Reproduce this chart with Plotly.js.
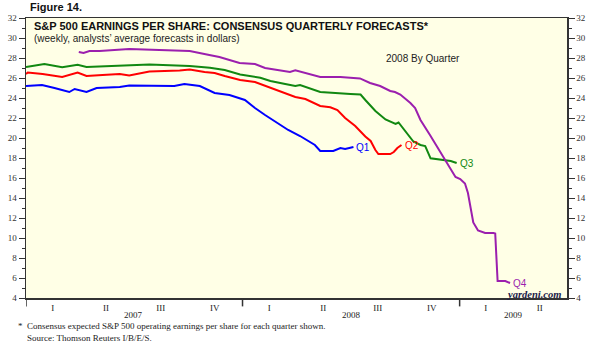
<!DOCTYPE html>
<html>
<head>
<meta charset="utf-8">
<script src="https://cdn.plot.ly/plotly-3.0.1.min.js"></script>
<style>html,body{margin:0;padding:0;background:#fff;}#chart{width:593px;height:344px;}</style>
</head>
<body>
<div id="chart"></div>
<script>
// ---- Data ----
const q1Dates = ['2007-01-01','2007-01-28','2007-02-18','2007-03-15','2007-03-24','2007-04-01','2007-04-13','2007-04-30','2007-06-08','2007-06-24','2007-08-14','2007-09-08','2007-09-25','2007-10-21','2007-11-15','2007-12-10','2008-01-05','2008-01-22','2008-02-08','2008-03-04','2008-03-18','2008-04-07','2008-04-24','2008-05-02','2008-05-11','2008-06-02','2008-06-14','2008-06-22','2008-07-06'];
const q1Vals = [25.2,25.3,25.0,24.6,24.9,24.75,24.6,25.0,25.1,25.25,25.25,25.2,25.4,25.2,24.5,24.3,23.8,23.0,22.3,21.3,20.8,20.2,19.6,19.3,18.7,18.7,19.0,18.9,19.1];

const q2Dates = ['2007-01-01','2007-01-04','2007-01-29','2007-03-03','2007-03-29','2007-04-13','2007-05-10','2007-06-08','2007-06-24','2007-07-28','2007-09-17','2007-10-04','2007-10-29','2007-11-15','2007-12-02','2007-12-28','2008-01-22','2008-02-17','2008-03-13','2008-03-30','2008-04-16','2008-05-03','2008-05-11','2008-05-28','2008-06-09','2008-06-22','2008-07-09','2008-07-26','2008-08-04','2008-08-12','2008-08-17','2008-09-06','2008-09-12','2008-09-18','2008-09-25'];
const q2Vals = [26.4,26.55,26.4,26.1,26.55,26.2,26.3,26.4,26.25,26.65,26.75,26.85,26.6,26.5,26.2,25.8,25.6,25.0,24.5,24.1,23.9,23.4,23.2,23.07,22.8,22.0,21.2,20.15,19.7,18.8,18.4,18.4,18.6,19.0,19.3];

const q3Dates = ['2007-01-01','2007-02-01','2007-03-03','2007-03-29','2007-04-13','2007-06-08','2007-07-12','2007-07-28','2007-10-04','2007-11-07','2007-12-02','2007-12-28','2008-01-31','2008-02-17','2008-03-13','2008-03-30','2008-04-07','2008-04-16','2008-05-03','2008-05-11','2008-07-01','2008-07-18','2008-07-26','2008-08-12','2008-08-29','2008-09-15','2008-09-20','2008-10-02','2008-10-15','2008-10-27','2008-11-04','2008-11-13','2008-11-30','2008-12-17','2008-12-27'];
const q3Vals = [27.1,27.4,27.07,27.33,27.1,27.2,27.3,27.35,27.2,27.03,26.8,26.36,26.03,25.7,25.4,25.2,25.3,25.1,24.7,24.6,24.4,24.35,23.8,22.7,21.85,21.4,21.55,20.65,19.65,19.3,19.2,17.97,17.8,17.7,17.5];

const q4Dates = ['2007-03-31','2007-04-08','2007-04-18','2007-05-05','2007-06-24','2007-07-28','2007-08-31','2007-10-04','2007-11-06','2007-11-23','2007-12-27','2008-01-22','2008-02-08','2008-03-21','2008-03-30','2008-04-16','2008-05-02','2008-05-11','2008-06-14','2008-07-17','2008-08-03','2008-08-20','2008-09-06','2008-09-14','2008-09-23','2008-10-10','2008-10-18','2008-10-27','2008-11-12','2008-11-29','2008-12-08','2008-12-16','2008-12-25','2009-01-02','2009-01-10','2009-01-15','2009-01-19','2009-01-24','2009-02-01','2009-02-13','2009-02-27','2009-03-02','2009-03-06','2009-03-19','2009-03-27'];
const q4Vals = [28.6,28.5,28.7,28.7,28.9,28.85,28.8,28.7,28.3,28.1,27.5,27.4,27.0,26.6,26.76,26.5,26.2,26.1,26.1,25.96,25.5,25.2,24.7,24.6,24.35,23.5,23.0,21.8,20.3,18.6,17.8,16.96,16.1,15.9,15.45,14.5,13.1,11.55,10.75,10.5,10.5,10.45,5.7,5.7,5.5];

const seriesNames = ['Q1','Q2','Q3','Q4'];
const seriesColors = ['#0000ff','#ff0000','#118811','#9b1fae'];

const quarterTickDates = ['2007-02-15','2007-05-16','2007-08-16','2007-11-15','2008-02-15','2008-05-16','2008-08-16','2008-11-15','2009-02-14','2009-05-16'];
const quarterTickText = ['I','II','III','IV','I','II','III','IV','I','II'];
const yearBoundaries = ['2007-01-01','2008-01-01','2009-01-01'];
const yearLabelDates = ['2007-07-02','2008-07-02','2009-04-01'];
const yearLabels = ['2007','2008','2009'];

// ---- Build chart ----
const allDates = [q1Dates,q2Dates,q3Dates,q4Dates];
const allVals = [q1Vals,q2Vals,q3Vals,q4Vals];

const traces = allDates.map((d,i)=>({
  x: d, y: allVals[i], type:'scatter', mode:'lines', name: seriesNames[i],
  line:{color: seriesColors[i], width:2}, hoverinfo:'skip'
}));
// invisible trace for right axis
traces.push({x:[q1Dates[0]], y:[q1Vals[0]], yaxis:'y2', mode:'markers', marker:{opacity:0}, showlegend:false, hoverinfo:'skip'});

const serif = 'Liberation Serif, Times New Roman, serif';
const sans = 'Liberation Sans, Arial, Helvetica, sans-serif';

const annotations = [];
allDates.forEach((d,i)=>{
  annotations.push({x:d[d.length-1], y:allVals[i][allVals[i].length-1], xref:'x', yref:'y',
    text:seriesNames[i], showarrow:false, xanchor:'left', yanchor:'middle', xshift:2, yshift:0, borderpad:0,
    font:{family:sans, size:10, color:seriesColors[i]}});
});
yearLabelDates.forEach((d,i)=>{
  annotations.push({x:d, y:-0.0607, xref:'x', yref:'paper', text:yearLabels[i], showarrow:false, borderpad:0,
    xanchor:'center', yanchor:'middle', font:{family:serif, size:9, color:'#222'}});
});
annotations.push({x:0.011, y:0.9725, xref:'paper', yref:'paper', xanchor:'left', yanchor:'middle', showarrow:false,
  text:'S&P 500 EARNINGS PER SHARE: CONSENSUS QUARTERLY FORECASTS*', font:{family:sans, size:11, color:'#111', weight:'bold'}});
annotations.push({x:0.011, y:0.925, xref:'paper', yref:'paper', xanchor:'left', yanchor:'middle', showarrow:false,
  text:'(weekly, analysts’ average forecasts in dollars)', font:{family:sans, size:10, color:'#222'}});
annotations.push({x:0.734, y:0.857, xref:'paper', yref:'paper', xanchor:'center', yanchor:'middle', showarrow:false,
  text:'2008 By Quarter', font:{family:sans, size:10, color:'#222'}});
annotations.push({x:0.991, y:0.012, xref:'paper', yref:'paper', xanchor:'right', yanchor:'middle', showarrow:false, borderpad:0,
  text:'<b><i>yardeni.com</i></b>', font:{family:serif, size:10.5, color:'#1a1a4a'}});
annotations.push({x:-0.017, y:-0.08, xref:'paper', yref:'paper', xanchor:'left', yanchor:'top', showarrow:false, borderpad:0, align:'left',
  text:'*\u00a0\u00a0Consensus expected S&P 500 operating earnings per share for each quarter shown.<br>\u00a0\u00a0\u00a0\u00a0Source: Thomson Reuters I/B/E/S.',
  font:{family:serif, size:9, color:'#222'}});

const shapes = yearBoundaries.map(d=>({type:'line', xref:'x', yref:'paper', x0:d, x1:d, y0:0, y1:-0.03,
  line:{color:'#333', width:1.5}}));

const yCommon = {range:[4,32], dtick:2, tick0:4, ticks:'outside', ticklen:6, tickwidth:1, tickcolor:'#333',
  minor:{dtick:1, ticks:'outside', ticklen:3, tickcolor:'#333'},
  showgrid:false, zeroline:false, showline:true, linecolor:'#333', linewidth:1.5,
  tickfont:{family:serif, size:9, color:'#333'}, fixedrange:true};

const layout = {
  width:593, height:344,
  margin:{l:26, r:26, t:18, b:46},
  paper_bgcolor:'#ffffff', plot_bgcolor:'#ffffe6',
  showlegend:false,
  title:{text:'Figure 14.', x:30/593, xanchor:'left', xref:'container', y:1-7/344, yanchor:'middle', yref:'container',
    font:{family:sans, size:11, color:'#111', weight:'bold'}},
  xaxis:{type:'date', range:['2007-01-01','2009-07-01'], tickvals:quarterTickDates, ticktext:quarterTickText,
    ticks:'', ticklabelstandoff:1, showgrid:false, zeroline:false, showline:true, mirror:true, linecolor:'#333', linewidth:1.5,
    tickfont:{family:serif, size:9, color:'#222'}, fixedrange:true},
  yaxis:Object.assign({}, yCommon, {side:'left', mirror:true}),
  yaxis2:Object.assign({}, yCommon, {side:'right', overlaying:'y', anchor:'x'}),
  annotations: annotations,
  shapes: shapes
};

Plotly.newPlot('chart', traces, layout, {staticPlot:true, displayModeBar:false});
</script>
</body>
</html>
